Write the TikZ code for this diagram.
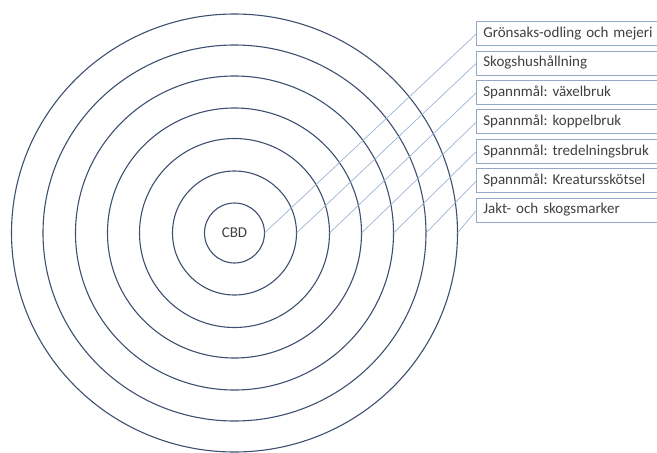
\documentclass[tikz,border=0pt]{standalone}
\usepackage{fontspec}
\setmainfont{Carlito}
\usepackage{tikz}
\usetikzlibrary{positioning,shapes.geometric}

\definecolor{ringblue}{HTML}{3E5070}
\definecolor{leaderblue}{HTML}{9AB4D6}
\definecolor{boxedge}{HTML}{93A9C6}
\definecolor{labeltext}{HTML}{404040}
\frenchspacing

\begin{document}
\begin{tikzpicture}[
  x=1pt, y=-1pt,
  node distance = 5.4pt,
  ring/.style   = {ellipse, draw=ringblue, line width=1.1pt,
                   inner sep=0pt, outer sep=0pt, text=labeltext,
                   font=\fontsize{15}{16}\selectfont},
  zone/.style   = {draw=boxedge, line width=0.7pt, minimum height=24pt,
                   text width=180pt, align=left, inner xsep=6.6pt,
                   inner ysep=2pt, outer sep=0pt, text=labeltext,
                   font=\fontsize{15}{16}\selectfont},
  leader/.style = {draw=leaderblue, line width=0.7pt}
]
  \useasboundingbox (0,0) rectangle (657,453);

  % Rings round the centre
  \coordinate (c) at (234.5,233);
  \node[ring, minimum width=446pt, minimum height=438pt] (r7) at (c) {};
  \node[ring, minimum width=383pt, minimum height=376pt] (r6) at (c) {};
  \node[ring, minimum width=318pt, minimum height=314pt] (r5) at (c) {};
  \node[ring, minimum width=254pt, minimum height=250pt] (r4) at (c) {};
  \node[ring, minimum width=190pt, minimum height=189pt] (r3) at (c) {};
  \node[ring, minimum width=124pt, minimum height=124pt] (r2) at (c) {};
  \node[ring, minimum width=60pt,  minimum height=60pt]  (r1) at (c) {CBD};

  % Zone labels
  \node[zone, anchor=west] (z1) at (476.7,33.5) {Grönsaks-odling och mejeri};
  \node[zone, below=of z1] (z2) {Skogshushållning};
  \node[zone, below=of z2] (z3) {Spannmål: växelbruk};
  \node[zone, below=of z3] (z4) {Spannmål: koppelbruk};
  \node[zone, below=of z4] (z5) {Spannmål: tredelningsbruk};
  \node[zone, below=of z5] (z6) {Spannmål: Kreatursskötsel};
  \node[zone, below=of z6] (z7) {Jakt- och skogsmarker};

  % Leaders
  \draw[leader] (r1.east) -- (z1.west);
  \draw[leader] (r2.east) -- (z2.west);
  \draw[leader] (r3.east) -- (z3.west);
  \draw[leader] (r4.east) -- (z4.west);
  \draw[leader] (r5.east) -- (z5.west);
  \draw[leader] (r6.east) -- (z6.west);
  \draw[leader] (r7.east) -- (z7.west);
\end{tikzpicture}
\end{document}
